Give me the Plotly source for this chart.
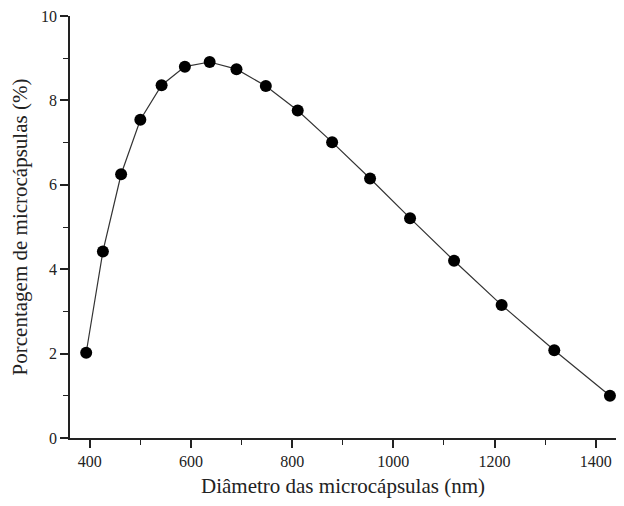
import plotly.graph_objects as go

diametro = [393, 426, 462, 500, 542, 588, 637, 690, 748, 811, 879, 954, 1033, 1120, 1214, 1318, 1428]
porcentagem = [2.02, 4.42, 6.25, 7.54, 8.36, 8.80, 8.91, 8.74, 8.34, 7.76, 7.01, 6.15, 5.21, 4.20, 3.15, 2.08, 1.00]

x_ticks = [400, 600, 800, 1000, 1200, 1400]
y_ticks = [0, 2, 4, 6, 8, 10]

font_family = "Liberation Serif"

fig = go.Figure()
fig.add_trace(go.Scatter(
    x=diametro, y=porcentagem,
    mode="lines+markers",
    line=dict(color="#333333", width=1.2),
    marker=dict(color="black", size=12),
    cliponaxis=False,
    showlegend=False,
))

axis_common = dict(
    showline=True, linecolor="#222222", linewidth=1.5,
    ticks="outside", ticklen=8, tickwidth=1.5, tickcolor="#222222",
    showgrid=False, zeroline=False, mirror=False, automargin=False,
    ticklabeloverflow="allow",
    tickfont=dict(family=font_family, size=16, color="#222222"),
)

fig.update_layout(
    width=608, height=490,
    margin=dict(l=62, r=0, t=8, b=60),
    paper_bgcolor="white", plot_bgcolor="white",
    font=dict(family=font_family, color="#222222"),
    xaxis=dict(
        range=[361, 1440],
        tickvals=x_ticks,
        minor=dict(ticks="outside", ticklen=5, tickwidth=1.2, tickcolor="#222222", dtick=100, tick0=0),
        title=dict(text="Diâmetro das microcápsulas (nm)", font=dict(family=font_family, size=21), standoff=16),
        **axis_common,
    ),
    yaxis=dict(
        range=[0, 10],
        tickvals=y_ticks,
        minor=dict(ticks="outside", ticklen=5, tickwidth=1.2, tickcolor="#222222", dtick=1, tick0=0),
        title=dict(text="Porcentagem de microcápsulas (%)", font=dict(family=font_family, size=21), standoff=14),
        **axis_common,
    ),
)

fig.write_html("out.html")
